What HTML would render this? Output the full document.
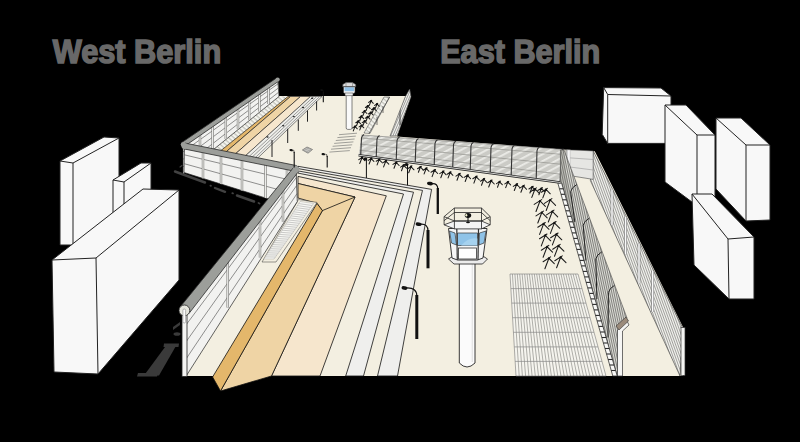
<!DOCTYPE html>
<html><head><meta charset="utf-8">
<style>
html,body{margin:0;padding:0;background:#000;width:800px;height:442px;overflow:hidden}
svg{display:block}
text{font-family:"Liberation Sans",sans-serif;font-weight:bold;fill:#686868;stroke:#686868;stroke-width:1.5}
</style></head><body>
<svg width="800" height="442" viewBox="0 0 800 442">
<defs>
<pattern id="hatch" width="3.5" height="3.5" patternUnits="userSpaceOnUse" patternTransform="rotate(40)">
  <rect width="3.5" height="3.5" fill="#f4f4ee"/><rect width="3.5" height="1.2" fill="#c0c0b8"/>
</pattern>
<pattern id="chain" width="6" height="6" patternUnits="userSpaceOnUse" patternTransform="rotate(-28)">
  <rect width="6" height="6" fill="#cbcbc6"/><rect width="6" height="1.8" fill="#ebebe7"/>
</pattern>
<pattern id="vl" width="2.2" height="10" patternUnits="userSpaceOnUse">
  <rect width="2.2" height="10" fill="#f2f2ee"/><rect width="0.8" height="10" fill="#8a8a86"/>
</pattern>
<pattern id="ow" width="2.3" height="6.3192" patternUnits="userSpaceOnUse" patternTransform="skewX(20)">
  <rect width="2.3" height="6.3192" fill="#f0f0ec"/><rect width="0.9" height="6.3192" fill="#8c8c88"/>
</pattern>
<pattern id="fz" width="2.1" height="9.8797" patternUnits="userSpaceOnUse" patternTransform="skewX(12)">
  <rect width="2.1" height="9.8797" fill="#dadad4"/><rect width="0.9" height="9.8797" fill="#6a6a66"/>
</pattern>
<pattern id="vld" width="2" height="10" patternUnits="userSpaceOnUse">
  <rect width="2" height="10" fill="#d6d6d0"/><rect width="0.9" height="10" fill="#5f5f5b"/>
</pattern>
</defs>
<rect width="800" height="442" fill="#000"/>

<text x="52.7" y="63.3" font-size="32.3" textLength="168.5" lengthAdjust="spacingAndGlyphs">West Berlin</text>
<text x="440.2" y="62.9" font-size="32.3" textLength="160" lengthAdjust="spacingAndGlyphs">East Berlin</text>
<g fill="#f8f8f8" stroke="#222" stroke-width="1" stroke-linejoin="round">
  <polygon points="60,161 104,137 119,138 119,240 73,245 60,245"/>
  <polyline fill="none" points="60,161 73,163 119,138"/>
  <line x1="73" y1="163" x2="73" y2="245"/>
  <polygon points="113,180 141,163 151,163 151,200 124,215 113,215"/>
  <polyline fill="none" points="113,180 124,182 151,163"/>
  <line x1="124" y1="182" x2="124" y2="215"/>
  <polygon points="52,260 143,189 179,190 179,280 98,374 54,372"/>
  <polyline fill="none" points="52,260 96,258 179,190"/>
  <line x1="96" y1="258" x2="98" y2="374"/>
</g>
<g fill="#f8f8f8" stroke="#222" stroke-width="1" stroke-linejoin="round">
  <polygon points="603.7,87.6 661,88 671,96 671,143.4 607.7,143.4 602.2,134.3"/>
  <polyline fill="none" points="603.7,87.6 607.7,94.5 671,96"/>
  <line x1="607.7" y1="94.5" x2="607.7" y2="143.4"/>
  <polygon points="665,105 686,105 715,135 715,205 696,205 665,182"/>
  <polyline fill="none" points="665,105 697,135 715,135"/>
  <line x1="697" y1="135" x2="697" y2="205"/>
  <polygon points="716,118 741,118 770,145 770,220 746,221 716,189"/>
  <polyline fill="none" points="716,118 746,145 770,145"/>
  <line x1="746" y1="145" x2="746" y2="221"/>
  <polygon points="692,194 712,194 754,237 754,299 729,299 694,265"/>
  <polyline fill="none" points="692,194 728,239 754,237"/>
  <line x1="728" y1="239" x2="729" y2="299"/>
</g>
<g fill="#3a3a3a">
<polygon points="144,375.5 159,375.5 176.5,345 166.5,345"/>
<polygon points="138,373 158,373 157,376.5 137,376.5"/>
<polygon points="164,343.5 179,343.5 178.5,347 163.5,347"/>
<polygon points="173,327 180,322 180,325 173,330"/>
<ellipse cx="177" cy="334" rx="3.5" ry="1.8"/>
<line x1="175.0" y1="171.5" x2="205.0" y2="182.5" stroke="#424242" stroke-width="2.40" stroke-linecap="round"/>
<line x1="180.0" y1="167.0" x2="182.0" y2="165.5" stroke="#424242" stroke-width="1.20" stroke-linecap="round"/>
<line x1="210.4" y1="185.6" x2="211.0" y2="185.8" stroke="#424242" stroke-width="1.76" stroke-linecap="round"/>
<line x1="215.0" y1="188.0" x2="225.0" y2="191.8" stroke="#424242" stroke-width="2.40" stroke-linecap="round"/>
<line x1="232.3" y1="193.2" x2="233.0" y2="193.4" stroke="#424242" stroke-width="1.76" stroke-linecap="round"/>
<line x1="237.0" y1="195.5" x2="254.0" y2="201.5" stroke="#424242" stroke-width="2.40" stroke-linecap="round"/>
<line x1="258.5" y1="203.0" x2="259.5" y2="203.5" stroke="#424242" stroke-width="1.76" stroke-linecap="round"/>
</g>
<polygon fill="#f3efe1" points="183,146 278,79 279,96 411,96 397,136.5 562.8,149.4 594.8,151.2 683,327 683,376 186,376 186,310 296,170"/>
<polygon fill="url(#hatch)" stroke="none" stroke-width="0.7" stroke-linejoin="round" points="279.0,96.5 289.0,96.5 201.0,168.0 190.7,168.0"/>
<polygon fill="#e4b76b" stroke="#222" stroke-width="0.7" stroke-linejoin="round" points="288.0,96.5 290.5,96.5 207.3,168.0 199.3,168.0"/>
<polygon fill="#efd4a5" stroke="#222" stroke-width="0.7" stroke-linejoin="round" points="290.5,96.5 300.5,96.5 219.4,168.0 207.3,168.0"/>
<polygon fill="#f6e6cd" stroke="#222" stroke-width="0.7" stroke-linejoin="round" points="300.5,96.5 310.5,96.5 232.1,168.0 219.4,168.0"/>
<polygon fill="#eeeeea" stroke="#333" stroke-width="0.6" stroke-linejoin="round" points="310.5,96.5 322.0,96.5 247.3,168.0 232.1,168.0"/>
<line x1="313.9" y1="96.5" x2="236.7" y2="168.0" stroke="#777" stroke-width="0.7"/>
<line x1="316.8" y1="96.5" x2="240.5" y2="168.0" stroke="#777" stroke-width="0.7"/>
<line x1="319.7" y1="96.5" x2="244.3" y2="168.0" stroke="#777" stroke-width="0.7"/>
<line x1="272" y1="140" x2="272" y2="157" stroke="#222" stroke-width="1"/>
<ellipse cx="267.5" cy="137" rx="1.2" ry="0.7" fill="#222"/>
<line x1="287.7" y1="128.8" x2="287.7" y2="143" stroke="#222" stroke-width="1"/>
<ellipse cx="283.2" cy="125.80000000000001" rx="1.2" ry="0.7" fill="#222"/>
<line x1="298.3" y1="119.6" x2="298.3" y2="130.8" stroke="#222" stroke-width="1"/>
<ellipse cx="293.8" cy="116.6" rx="1.2" ry="0.7" fill="#222"/>
<line x1="307.5" y1="110.5" x2="307.5" y2="121.7" stroke="#222" stroke-width="1"/>
<ellipse cx="303.0" cy="107.5" rx="1.2" ry="0.7" fill="#222"/>
<line x1="316.6" y1="101.3" x2="316.6" y2="110.5" stroke="#222" stroke-width="1"/>
<ellipse cx="312.1" cy="98.3" rx="1.2" ry="0.7" fill="#222"/>
<polygon fill="#f2f2f0" stroke="#222" stroke-width="0.7" stroke-linejoin="round" points="183.0,144.5 277.7,79.5 279.0,96.5 183.0,174.2"/><line x1="183.0" y1="151.9" x2="278.0" y2="83.8" stroke="#4a4a4a" stroke-width="0.6"/><line x1="183.0" y1="159.3" x2="278.4" y2="88.0" stroke="#4a4a4a" stroke-width="0.6"/><line x1="183.0" y1="166.8" x2="278.7" y2="92.2" stroke="#4a4a4a" stroke-width="0.6"/><line x1="200.0" y1="132.8" x2="200.0" y2="160.3" stroke="#7a7a76" stroke-width="2.4"/><line x1="200.0" y1="132.8" x2="200.0" y2="160.3" stroke="#ececea" stroke-width="1.2"/><line x1="212.6" y1="124.2" x2="212.6" y2="149.9" stroke="#7a7a76" stroke-width="2.4"/><line x1="212.6" y1="124.2" x2="212.6" y2="149.9" stroke="#ececea" stroke-width="1.2"/><line x1="225.8" y1="115.1" x2="225.8" y2="139.1" stroke="#7a7a76" stroke-width="2.4"/><line x1="225.8" y1="115.1" x2="225.8" y2="139.1" stroke="#ececea" stroke-width="1.2"/><line x1="238.0" y1="106.7" x2="238.0" y2="129.1" stroke="#7a7a76" stroke-width="2.4"/><line x1="238.0" y1="106.7" x2="238.0" y2="129.1" stroke="#ececea" stroke-width="1.2"/><line x1="249.2" y1="99.1" x2="249.2" y2="119.9" stroke="#7a7a76" stroke-width="2.4"/><line x1="249.2" y1="99.1" x2="249.2" y2="119.9" stroke="#ececea" stroke-width="1.2"/><line x1="259.4" y1="92.1" x2="259.4" y2="111.5" stroke="#7a7a76" stroke-width="2.4"/><line x1="259.4" y1="92.1" x2="259.4" y2="111.5" stroke="#ececea" stroke-width="1.2"/><line x1="268.5" y1="85.8" x2="268.5" y2="104.0" stroke="#7a7a76" stroke-width="2.4"/><line x1="268.5" y1="85.8" x2="268.5" y2="104.0" stroke="#ececea" stroke-width="1.2"/>
<polygon fill="#9c9e9a" stroke="#2a2a2a" stroke-width="0.8" stroke-linejoin="round" points="184.3,146.4 278.8,81.1 276.6,77.9 181.7,142.6"/><circle cx="183.0" cy="144.5" r="2.3" fill="#9c9e9a"/><circle cx="277.7" cy="79.5" r="2.0" fill="#9c9e9a"/>
<polygon fill="#f2f2f0" stroke="#222" stroke-width="0.7" stroke-linejoin="round" points="184.5,146.0 296.0,168.5 296.0,207.5 184.0,172.5"/><line x1="184.3" y1="154.8" x2="296.0" y2="181.5" stroke="#4a4a4a" stroke-width="0.6"/><line x1="184.2" y1="163.7" x2="296.0" y2="194.5" stroke="#4a4a4a" stroke-width="0.6"/><line x1="203.0" y1="149.7" x2="203.0" y2="178.3" stroke="#7a7a76" stroke-width="2.4"/><line x1="203.0" y1="149.7" x2="203.0" y2="178.3" stroke="#ececea" stroke-width="1.2"/><line x1="221.0" y1="153.4" x2="221.0" y2="184.0" stroke="#7a7a76" stroke-width="2.4"/><line x1="221.0" y1="153.4" x2="221.0" y2="184.0" stroke="#ececea" stroke-width="1.2"/><line x1="242.0" y1="157.6" x2="242.0" y2="190.5" stroke="#7a7a76" stroke-width="2.4"/><line x1="242.0" y1="157.6" x2="242.0" y2="190.5" stroke="#ececea" stroke-width="1.2"/><line x1="265.5" y1="162.3" x2="265.5" y2="197.9" stroke="#7a7a76" stroke-width="2.4"/><line x1="265.5" y1="162.3" x2="265.5" y2="197.9" stroke="#ececea" stroke-width="1.2"/><line x1="287.0" y1="166.7" x2="287.0" y2="204.7" stroke="#7a7a76" stroke-width="2.4"/><line x1="287.0" y1="166.7" x2="287.0" y2="204.7" stroke="#ececea" stroke-width="1.2"/>
<polygon fill="#9c9e9a" stroke="#2a2a2a" stroke-width="0.8" stroke-linejoin="round" points="183.9,148.9 295.4,171.4 296.6,165.6 185.1,143.1"/><circle cx="184.5" cy="146.0" r="3.0" fill="#9c9e9a"/><circle cx="296.0" cy="168.5" r="3.0" fill="#9c9e9a"/>
<g stroke="#111" stroke-width="0.8" stroke-linejoin="round">
<polygon fill="#f6e6cd" points="298,176.4 386.3,195.8 320,376 271.5,376 355,197 298,183.5"/>
<polygon fill="#efd4a5" points="298,183.5 355,197 271.5,376 220.5,391 322.4,210.6 317,203.4 298,198"/>
<polygon fill="#e4b76b" points="317,203.4 322.4,210.6 220.5,391 212.6,377"/>
<line x1="355" y1="197" x2="322.4" y2="210.6"/>
<polygon fill="#f3efe1" stroke="#333" stroke-width="0.5" points="298.5,199.5 317,202.4 276,262 262,262"/>
<polygon fill="#f8f8f4" stroke="#999" stroke-width="0.4" points="300,201.5 313.5,203.5 274,259 264,259"/>
<line x1="298.7" y1="203.6" x2="312.1" y2="205.5" stroke="#aaa" stroke-width="0.6"/>
<line x1="297.4" y1="205.6" x2="310.7" y2="207.5" stroke="#aaa" stroke-width="0.6"/>
<line x1="296.1" y1="207.7" x2="309.3" y2="209.4" stroke="#aaa" stroke-width="0.6"/>
<line x1="294.9" y1="209.7" x2="307.9" y2="211.4" stroke="#aaa" stroke-width="0.6"/>
<line x1="293.6" y1="211.8" x2="306.4" y2="213.4" stroke="#aaa" stroke-width="0.6"/>
<line x1="292.3" y1="213.8" x2="305.0" y2="215.4" stroke="#aaa" stroke-width="0.6"/>
<line x1="291.0" y1="215.9" x2="303.6" y2="217.4" stroke="#aaa" stroke-width="0.6"/>
<line x1="289.7" y1="217.9" x2="302.2" y2="219.4" stroke="#aaa" stroke-width="0.6"/>
<line x1="288.4" y1="220.0" x2="300.8" y2="221.3" stroke="#aaa" stroke-width="0.6"/>
<line x1="287.1" y1="222.0" x2="299.4" y2="223.3" stroke="#aaa" stroke-width="0.6"/>
<line x1="285.9" y1="224.1" x2="298.0" y2="225.3" stroke="#aaa" stroke-width="0.6"/>
<line x1="284.6" y1="226.1" x2="296.6" y2="227.3" stroke="#aaa" stroke-width="0.6"/>
<line x1="283.3" y1="228.2" x2="295.2" y2="229.3" stroke="#aaa" stroke-width="0.6"/>
<line x1="282.0" y1="230.2" x2="293.8" y2="231.2" stroke="#aaa" stroke-width="0.6"/>
<line x1="280.7" y1="232.3" x2="292.3" y2="233.2" stroke="#aaa" stroke-width="0.6"/>
<line x1="279.4" y1="234.4" x2="290.9" y2="235.2" stroke="#aaa" stroke-width="0.6"/>
<line x1="278.1" y1="236.4" x2="289.5" y2="237.2" stroke="#aaa" stroke-width="0.6"/>
<line x1="276.9" y1="238.5" x2="288.1" y2="239.2" stroke="#aaa" stroke-width="0.6"/>
<line x1="275.6" y1="240.5" x2="286.7" y2="241.2" stroke="#aaa" stroke-width="0.6"/>
<line x1="274.3" y1="242.6" x2="285.3" y2="243.1" stroke="#aaa" stroke-width="0.6"/>
<line x1="273.0" y1="244.6" x2="283.9" y2="245.1" stroke="#aaa" stroke-width="0.6"/>
<line x1="271.7" y1="246.7" x2="282.5" y2="247.1" stroke="#aaa" stroke-width="0.6"/>
<line x1="270.4" y1="248.7" x2="281.1" y2="249.1" stroke="#aaa" stroke-width="0.6"/>
<line x1="269.1" y1="250.8" x2="279.6" y2="251.1" stroke="#aaa" stroke-width="0.6"/>
<line x1="267.9" y1="252.8" x2="278.2" y2="253.1" stroke="#aaa" stroke-width="0.6"/>
<line x1="266.6" y1="254.9" x2="276.8" y2="255.0" stroke="#aaa" stroke-width="0.6"/>
<line x1="265.3" y1="256.9" x2="275.4" y2="257.0" stroke="#aaa" stroke-width="0.6"/>
<polygon fill="#efefed" points="298,173.1 403.5,194 345.7,376 363.5,376 413.5,192.2 298,170.9"/>
<polygon fill="#efefed" points="298,168.6 422.5,190.4 377.5,376 397.5,376 431.6,189.4 298,166.3"/>
</g>
<polygon fill="#f2f2f0" stroke="#222" stroke-width="0.7" stroke-linejoin="round" points="184.0,310.5 296.0,169.5 297.3,201.6 186.5,375.5"/><line x1="184.6" y1="326.8" x2="296.3" y2="177.5" stroke="#4a4a4a" stroke-width="0.6"/><line x1="185.2" y1="343.0" x2="296.6" y2="185.6" stroke="#4a4a4a" stroke-width="0.6"/><line x1="185.9" y1="359.2" x2="297.0" y2="193.6" stroke="#4a4a4a" stroke-width="0.6"/><line x1="227.7" y1="255.5" x2="227.7" y2="307.6" stroke="#7a7a76" stroke-width="2.4"/><line x1="227.7" y1="255.5" x2="227.7" y2="307.6" stroke="#ececea" stroke-width="1.2"/><line x1="260.0" y1="214.8" x2="260.0" y2="257.5" stroke="#7a7a76" stroke-width="2.4"/><line x1="260.0" y1="214.8" x2="260.0" y2="257.5" stroke="#ececea" stroke-width="1.2"/><line x1="283.0" y1="185.9" x2="283.0" y2="221.8" stroke="#7a7a76" stroke-width="2.4"/><line x1="283.0" y1="185.9" x2="283.0" y2="221.8" stroke="#ececea" stroke-width="1.2"/>
<polygon fill="#9c9e9a" stroke="#2a2a2a" stroke-width="0.8" stroke-linejoin="round" points="188.9,313.6 298.5,171.5 293.5,167.5 180.3,306.8"/><circle cx="184.6" cy="310.2" r="5.5" fill="#9c9e9a"/><circle cx="296.0" cy="169.5" r="3.2" fill="#9c9e9a"/>
<rect x="182" y="312" width="5" height="64.5" fill="#f4f4f2" stroke="#222" stroke-width="0.8"/>
<circle cx="184.4" cy="310.4" r="5.4" fill="#e6e6de" stroke="#222" stroke-width="0.8"/>
<rect x="182.9" y="309" width="2.7" height="14" rx="1.3" fill="#fafafa" stroke="#777" stroke-width="0.5"/>
<polygon fill="url(#hatch)" stroke="#555" stroke-width="0.6" points="384,97 389.6,97 370,133.5 364,133"/>
<g stroke="#444" stroke-width="0.7"><line x1="389.6" y1="97" x2="369" y2="133.5"/><line x1="383" y1="106" x2="383" y2="113"/><line x1="377" y1="117" x2="377" y2="125"/></g>
<clipPath id="cff"><polygon points="409.7,89 411,96.7 397,136 390,136 405.3,96.7"/></clipPath>
<polygon fill="#f2f2ee" points="409.7,89 411,96.7 397,136 390,136 405.3,96.7"/>
<g clip-path="url(#cff)" stroke="#777" stroke-width="0.7">
<line x1="409.0" y1="88" x2="388.0" y2="137"/>
<line x1="411.2" y1="88" x2="390.2" y2="137"/>
<line x1="413.4" y1="88" x2="392.4" y2="137"/>
<line x1="415.6" y1="88" x2="394.6" y2="137"/>
<line x1="417.8" y1="88" x2="396.8" y2="137"/>
<line x1="420.0" y1="88" x2="399.0" y2="137"/>
<line x1="422.2" y1="88" x2="401.2" y2="137"/>
<line x1="424.4" y1="88" x2="403.4" y2="137"/>
<line x1="400" y1="100" x2="400" y2="125" stroke="#333" stroke-width="0.9"/>
</g>
<polygon fill="none" stroke="#444" stroke-width="0.6" points="409.7,89 411,96.7 397,136 390,136 405.3,96.7"/>
<rect x="346.2" y="94" width="5.8" height="35.4" fill="#fafafa" stroke="#333" stroke-width="0.6" rx="1.5"/>
<polygon points="343.5,86.5 343.5,92.5 346,94.5 352,94.5 355,92.5 355,86.5" fill="#f2f2f2" stroke="#333" stroke-width="0.6"/>
<rect x="344.5" y="87.2" width="9.5" height="4" fill="#8fc0e6"/>
<polygon points="342.8,86.8 342.8,84.5 346,82.6 352.5,82.6 355.7,84.5 355.7,86.8" fill="#dcdcdc" stroke="#555" stroke-width="0.6"/>
<line x1="346" y1="82.8" x2="346" y2="86.5" stroke="#666" stroke-width="0.5"/><line x1="352.5" y1="82.8" x2="352.5" y2="86.5" stroke="#666" stroke-width="0.5"/>
<line x1="343" y1="86.5" x2="355.5" y2="86.5" stroke="#444" stroke-width="0.6"/>
<rect x="345" y="93" width="8" height="2.8" fill="#eee" stroke="#333" stroke-width="0.5"/>
<line x1="339.0" y1="134.7" x2="357.0" y2="133.2" stroke="#8a8a86" stroke-width="0.8"/>
<line x1="337.4" y1="137.6" x2="355.8" y2="136.1" stroke="#8a8a86" stroke-width="0.8"/>
<line x1="335.8" y1="140.5" x2="354.6" y2="139.0" stroke="#8a8a86" stroke-width="0.8"/>
<line x1="334.2" y1="143.4" x2="353.4" y2="141.9" stroke="#8a8a86" stroke-width="0.8"/>
<line x1="332.6" y1="146.3" x2="352.2" y2="144.8" stroke="#8a8a86" stroke-width="0.8"/>
<line x1="331.0" y1="149.2" x2="351.0" y2="147.7" stroke="#8a8a86" stroke-width="0.8"/>
<line x1="329.4" y1="152.1" x2="349.8" y2="150.6" stroke="#8a8a86" stroke-width="0.8"/>
<path d="M369.3,105.4 L371.0,101.0 L373.3,103.3 M368.6,102.4 L371.7,100.4" stroke="#1a1a1a" stroke-width="1.05" fill="none" stroke-linecap="round"/><circle cx="371.0" cy="101.0" r="1.1" fill="#111"/>
<path d="M366.1,110.5 L367.8,106.1 L370.1,108.4 M365.4,107.5 L368.5,105.5" stroke="#1a1a1a" stroke-width="1.05" fill="none" stroke-linecap="round"/><circle cx="367.8" cy="106.1" r="1.1" fill="#111"/>
<path d="M362.9,115.6 L364.6,111.2 L366.9,113.5 M362.2,112.6 L365.3,110.6" stroke="#1a1a1a" stroke-width="1.05" fill="none" stroke-linecap="round"/><circle cx="364.6" cy="111.2" r="1.1" fill="#111"/>
<path d="M359.7,120.7 L361.4,116.3 L363.7,118.6 M359.0,117.7 L362.1,115.7" stroke="#1a1a1a" stroke-width="1.05" fill="none" stroke-linecap="round"/><circle cx="361.4" cy="116.3" r="1.1" fill="#111"/>
<path d="M356.5,125.8 L358.2,121.4 L360.5,123.7 M355.8,122.8 L358.9,120.8" stroke="#1a1a1a" stroke-width="1.05" fill="none" stroke-linecap="round"/><circle cx="358.2" cy="121.4" r="1.1" fill="#111"/>
<path d="M353.3,130.9 L355.0,126.5 L357.3,128.8 M352.6,127.9 L355.7,125.9" stroke="#1a1a1a" stroke-width="1.05" fill="none" stroke-linecap="round"/><circle cx="355.0" cy="126.5" r="1.1" fill="#111"/>
<path d="M375.3,108.4 L377.0,104.0 L379.3,106.3 M374.6,105.4 L377.7,103.4" stroke="#1a1a1a" stroke-width="1.05" fill="none" stroke-linecap="round"/><circle cx="377.0" cy="104.0" r="1.1" fill="#111"/>
<path d="M372.2,112.7 L373.9,108.3 L376.2,110.6 M371.5,109.7 L374.6,107.7" stroke="#1a1a1a" stroke-width="1.05" fill="none" stroke-linecap="round"/><circle cx="373.9" cy="108.3" r="1.1" fill="#111"/>
<path d="M369.1,117.0 L370.8,112.6 L373.1,114.9 M368.4,114.0 L371.5,112.0" stroke="#1a1a1a" stroke-width="1.05" fill="none" stroke-linecap="round"/><circle cx="370.8" cy="112.6" r="1.1" fill="#111"/>
<path d="M366.0,121.3 L367.7,116.9 L370.0,119.2 M365.3,118.3 L368.4,116.3" stroke="#1a1a1a" stroke-width="1.05" fill="none" stroke-linecap="round"/><circle cx="367.7" cy="116.9" r="1.1" fill="#111"/>
<path d="M362.9,125.6 L364.6,121.2 L366.9,123.5 M362.2,122.6 L365.3,120.6" stroke="#1a1a1a" stroke-width="1.05" fill="none" stroke-linecap="round"/><circle cx="364.6" cy="121.2" r="1.1" fill="#111"/>
<path d="M359.8,129.9 L361.5,125.5 L363.8,127.8 M359.1,126.9 L362.2,124.9" stroke="#1a1a1a" stroke-width="1.05" fill="none" stroke-linecap="round"/><circle cx="361.5" cy="125.5" r="1.1" fill="#111"/>
<polygon fill="url(#chain)" stroke="none" points="361.5,135 562.8,149.4 560,182.5 358.6,155.2"/>
<line x1="361.1" y1="138.0" x2="562.4" y2="154.4" stroke="#9a9a96" stroke-width="0.8"/>
<line x1="360.2" y1="144.1" x2="561.5" y2="164.3" stroke="#9a9a96" stroke-width="0.8"/>
<line x1="359.3" y1="150.1" x2="560.7" y2="174.2" stroke="#9a9a96" stroke-width="0.8"/>
<line x1="361.5" y1="135" x2="562.8" y2="149.4" stroke="#777" stroke-width="0.6"/>
<path d="M360.7,155.2 L361.5,138.0 q0.5,-2.5 2.5,-3.5" stroke="#333" stroke-width="1.1" fill="none"/>
<path d="M376.2,157.3 L377.0,139.1 q0.5,-2.5 2.5,-3.5" stroke="#333" stroke-width="1.1" fill="none"/>
<path d="M396.2,160.0 L397.0,140.5 q0.5,-2.5 2.5,-3.5" stroke="#333" stroke-width="1.1" fill="none"/>
<path d="M415.2,162.6 L416.0,141.9 q0.5,-2.5 2.5,-3.5" stroke="#333" stroke-width="1.1" fill="none"/>
<path d="M434.2,165.2 L435.0,143.3 q0.5,-2.5 2.5,-3.5" stroke="#333" stroke-width="1.1" fill="none"/>
<path d="M452.7,167.7 L453.5,144.6 q0.5,-2.5 2.5,-3.5" stroke="#333" stroke-width="1.1" fill="none"/>
<path d="M470.2,170.1 L471.0,145.8 q0.5,-2.5 2.5,-3.5" stroke="#333" stroke-width="1.1" fill="none"/>
<path d="M490.2,172.8 L491.0,147.3 q0.5,-2.5 2.5,-3.5" stroke="#333" stroke-width="1.1" fill="none"/>
<path d="M511.2,175.6 L512.0,148.8 q0.5,-2.5 2.5,-3.5" stroke="#333" stroke-width="1.1" fill="none"/>
<path d="M536.2,179.0 L537.0,150.6 q0.5,-2.5 2.5,-3.5" stroke="#333" stroke-width="1.1" fill="none"/>
<path d="M560.2,182.3 L561.0,152.3 q0.5,-2.5 2.5,-3.5" stroke="#333" stroke-width="1.1" fill="none"/>
<line x1="358.6" y1="155.2" x2="560" y2="182.5" stroke="#222" stroke-width="2.6"/>
<line x1="358.6" y1="155.2" x2="560" y2="182.5" stroke="#e8e8e4" stroke-width="0.9"/>
<path d="M359.8,163.4 L362.0,157.7 L364.9,160.7 M358.8,159.6 L362.9,157.0" stroke="#1a1a1a" stroke-width="1.05" fill="none" stroke-linecap="round"/><circle cx="362.0" cy="157.7" r="1.1" fill="#111"/>
<path d="M369.1,164.0 L371.2,158.7 L373.9,161.4 M368.2,160.4 L372.0,158.0" stroke="#1a1a1a" stroke-width="1.05" fill="none" stroke-linecap="round"/><circle cx="371.2" cy="158.7" r="1.1" fill="#111"/>
<path d="M377.1,164.9 L379.1,159.6 L381.9,162.3 M376.2,161.3 L380.0,158.9" stroke="#1a1a1a" stroke-width="1.05" fill="none" stroke-linecap="round"/><circle cx="379.1" cy="159.6" r="1.1" fill="#111"/>
<path d="M383.6,166.9 L385.8,161.1 L388.8,164.1 M382.6,162.9 L386.8,160.3" stroke="#1a1a1a" stroke-width="1.05" fill="none" stroke-linecap="round"/><circle cx="385.8" cy="161.1" r="1.1" fill="#111"/>
<path d="M394.0,168.3 L396.2,162.5 L399.1,165.5 M393.0,164.4 L397.1,161.8" stroke="#1a1a1a" stroke-width="1.05" fill="none" stroke-linecap="round"/><circle cx="396.2" cy="162.5" r="1.1" fill="#111"/>
<path d="M401.5,170.8 L403.6,165.3 L406.5,168.1 M400.6,167.1 L404.5,164.5" stroke="#1a1a1a" stroke-width="1.05" fill="none" stroke-linecap="round"/><circle cx="403.6" cy="165.3" r="1.1" fill="#111"/>
<path d="M408.7,172.7 L411.0,166.7 L414.0,169.8 M407.7,168.7 L411.9,165.9" stroke="#1a1a1a" stroke-width="1.05" fill="none" stroke-linecap="round"/><circle cx="411.0" cy="166.7" r="1.1" fill="#111"/>
<path d="M418.4,172.3 L420.4,167.0 L423.1,169.8 M417.5,168.7 L421.3,166.3" stroke="#1a1a1a" stroke-width="1.05" fill="none" stroke-linecap="round"/><circle cx="420.4" cy="167.0" r="1.1" fill="#111"/>
<path d="M424.1,173.9 L426.2,168.5 L429.0,171.3 M423.2,170.2 L427.1,167.7" stroke="#1a1a1a" stroke-width="1.05" fill="none" stroke-linecap="round"/><circle cx="426.2" cy="168.5" r="1.1" fill="#111"/>
<path d="M432.1,176.6 L434.5,170.3 L437.7,173.5 M431.0,172.3 L435.5,169.5" stroke="#1a1a1a" stroke-width="1.05" fill="none" stroke-linecap="round"/><circle cx="434.5" cy="170.3" r="1.1" fill="#111"/>
<path d="M440.8,177.7 L443.1,171.7 L446.2,174.8 M439.7,173.6 L444.1,170.9" stroke="#1a1a1a" stroke-width="1.05" fill="none" stroke-linecap="round"/><circle cx="443.1" cy="171.7" r="1.1" fill="#111"/>
<path d="M448.1,177.9 L450.2,172.5 L452.9,175.3 M447.2,174.3 L451.0,171.8" stroke="#1a1a1a" stroke-width="1.05" fill="none" stroke-linecap="round"/><circle cx="450.2" cy="172.5" r="1.1" fill="#111"/>
<path d="M457.0,180.2 L459.3,174.1 L462.5,177.3 M456.0,176.1 L460.3,173.3" stroke="#1a1a1a" stroke-width="1.05" fill="none" stroke-linecap="round"/><circle cx="459.3" cy="174.1" r="1.1" fill="#111"/>
<path d="M465.2,181.5 L467.5,175.5 L470.5,178.6 M464.1,177.4 L468.4,174.7" stroke="#1a1a1a" stroke-width="1.05" fill="none" stroke-linecap="round"/><circle cx="467.5" cy="175.5" r="1.1" fill="#111"/>
<path d="M473.9,183.1 L476.2,176.8 L479.4,180.0 M472.8,178.8 L477.2,176.0" stroke="#1a1a1a" stroke-width="1.05" fill="none" stroke-linecap="round"/><circle cx="476.2" cy="176.8" r="1.1" fill="#111"/>
<path d="M481.5,185.2 L483.8,179.2 L486.8,182.3 M480.5,181.2 L484.7,178.4" stroke="#1a1a1a" stroke-width="1.05" fill="none" stroke-linecap="round"/><circle cx="483.8" cy="179.2" r="1.1" fill="#111"/>
<path d="M488.7,187.0 L491.1,180.8 L494.3,184.0 M487.7,182.8 L492.1,180.0" stroke="#1a1a1a" stroke-width="1.05" fill="none" stroke-linecap="round"/><circle cx="491.1" cy="180.8" r="1.1" fill="#111"/>
<path d="M497.5,187.3 L499.5,181.9 L502.3,184.6 M496.5,183.6 L500.4,181.1" stroke="#1a1a1a" stroke-width="1.05" fill="none" stroke-linecap="round"/><circle cx="499.5" cy="181.9" r="1.1" fill="#111"/>
<path d="M505.7,187.6 L507.8,182.1 L510.6,184.9 M504.8,183.9 L508.7,181.4" stroke="#1a1a1a" stroke-width="1.05" fill="none" stroke-linecap="round"/><circle cx="507.8" cy="182.1" r="1.1" fill="#111"/>
<path d="M514.3,190.5 L516.7,184.4 L519.8,187.5 M513.3,186.4 L517.6,183.6" stroke="#1a1a1a" stroke-width="1.05" fill="none" stroke-linecap="round"/><circle cx="516.7" cy="184.4" r="1.1" fill="#111"/>
<path d="M520.9,192.3 L523.4,186.0 L526.6,189.3 M519.8,188.1 L524.4,185.1" stroke="#1a1a1a" stroke-width="1.05" fill="none" stroke-linecap="round"/><circle cx="523.4" cy="186.0" r="1.1" fill="#111"/>
<path d="M529.9,193.0 L532.2,187.0 L535.3,190.1 M528.9,189.0 L533.2,186.2" stroke="#1a1a1a" stroke-width="1.05" fill="none" stroke-linecap="round"/><circle cx="532.2" cy="187.0" r="1.1" fill="#111"/>
<path d="M538.9,194.8 L541.3,188.5 L544.6,191.7 M537.8,190.5 L542.4,187.6" stroke="#1a1a1a" stroke-width="1.05" fill="none" stroke-linecap="round"/><circle cx="541.3" cy="188.5" r="1.1" fill="#111"/>
<clipPath id="cow"><polygon points="593.1,150.8 683,328.5 680,376 590.4,180.6"/></clipPath>
<polygon fill="#f0f0ec" points="593.1,150.8 683,328.5 680,376 590.4,180.6"/>
<g clip-path="url(#cow)" stroke="#8c8c88" stroke-width="0.8">
<line x1="480.0" y1="140" x2="566.4" y2="380"/>
<line x1="482.3" y1="140" x2="568.7" y2="380"/>
<line x1="484.6" y1="140" x2="571.0" y2="380"/>
<line x1="486.9" y1="140" x2="573.3" y2="380"/>
<line x1="489.2" y1="140" x2="575.6" y2="380"/>
<line x1="491.5" y1="140" x2="577.9" y2="380"/>
<line x1="493.8" y1="140" x2="580.2" y2="380"/>
<line x1="496.1" y1="140" x2="582.5" y2="380"/>
<line x1="498.4" y1="140" x2="584.8" y2="380"/>
<line x1="500.7" y1="140" x2="587.1" y2="380"/>
<line x1="503.0" y1="140" x2="589.4" y2="380"/>
<line x1="505.3" y1="140" x2="591.7" y2="380"/>
<line x1="507.6" y1="140" x2="594.0" y2="380"/>
<line x1="509.9" y1="140" x2="596.3" y2="380"/>
<line x1="512.2" y1="140" x2="598.6" y2="380"/>
<line x1="514.5" y1="140" x2="600.9" y2="380"/>
<line x1="516.8" y1="140" x2="603.2" y2="380"/>
<line x1="519.1" y1="140" x2="605.5" y2="380"/>
<line x1="521.4" y1="140" x2="607.8" y2="380"/>
<line x1="523.7" y1="140" x2="610.1" y2="380"/>
<line x1="526.0" y1="140" x2="612.4" y2="380"/>
<line x1="528.3" y1="140" x2="614.7" y2="380"/>
<line x1="530.6" y1="140" x2="617.0" y2="380"/>
<line x1="532.9" y1="140" x2="619.3" y2="380"/>
<line x1="535.2" y1="140" x2="621.6" y2="380"/>
<line x1="537.5" y1="140" x2="623.9" y2="380"/>
<line x1="539.8" y1="140" x2="626.2" y2="380"/>
<line x1="542.1" y1="140" x2="628.5" y2="380"/>
<line x1="544.4" y1="140" x2="630.8" y2="380"/>
<line x1="546.7" y1="140" x2="633.1" y2="380"/>
<line x1="549.0" y1="140" x2="635.4" y2="380"/>
<line x1="551.3" y1="140" x2="637.7" y2="380"/>
<line x1="553.6" y1="140" x2="640.0" y2="380"/>
<line x1="555.9" y1="140" x2="642.3" y2="380"/>
<line x1="558.2" y1="140" x2="644.6" y2="380"/>
<line x1="560.5" y1="140" x2="646.9" y2="380"/>
<line x1="562.8" y1="140" x2="649.2" y2="380"/>
<line x1="565.1" y1="140" x2="651.5" y2="380"/>
<line x1="567.4" y1="140" x2="653.8" y2="380"/>
<line x1="569.7" y1="140" x2="656.1" y2="380"/>
<line x1="572.0" y1="140" x2="658.4" y2="380"/>
<line x1="574.3" y1="140" x2="660.7" y2="380"/>
<line x1="576.6" y1="140" x2="663.0" y2="380"/>
<line x1="578.9" y1="140" x2="665.3" y2="380"/>
<line x1="581.2" y1="140" x2="667.6" y2="380"/>
<line x1="583.5" y1="140" x2="669.9" y2="380"/>
<line x1="585.8" y1="140" x2="672.2" y2="380"/>
<line x1="588.1" y1="140" x2="674.5" y2="380"/>
<line x1="590.4" y1="140" x2="676.8" y2="380"/>
<line x1="592.7" y1="140" x2="679.1" y2="380"/>
<line x1="595.0" y1="140" x2="681.4" y2="380"/>
<line x1="597.3" y1="140" x2="683.7" y2="380"/>
<line x1="599.6" y1="140" x2="686.0" y2="380"/>
<line x1="601.9" y1="140" x2="688.3" y2="380"/>
<line x1="604.2" y1="140" x2="690.6" y2="380"/>
<line x1="606.5" y1="140" x2="692.9" y2="380"/>
<line x1="608.8" y1="140" x2="695.2" y2="380"/>
<line x1="611.1" y1="140" x2="697.5" y2="380"/>
<line x1="613.4" y1="140" x2="699.8" y2="380"/>
<line x1="615.7" y1="140" x2="702.1" y2="380"/>
<line x1="618.0" y1="140" x2="704.4" y2="380"/>
<line x1="620.3" y1="140" x2="706.7" y2="380"/>
<line x1="622.6" y1="140" x2="709.0" y2="380"/>
<line x1="624.9" y1="140" x2="711.3" y2="380"/>
<line x1="627.2" y1="140" x2="713.6" y2="380"/>
<line x1="629.5" y1="140" x2="715.9" y2="380"/>
<line x1="631.8" y1="140" x2="718.2" y2="380"/>
<line x1="634.1" y1="140" x2="720.5" y2="380"/>
<line x1="636.4" y1="140" x2="722.8" y2="380"/>
<line x1="638.7" y1="140" x2="725.1" y2="380"/>
<line x1="641.0" y1="140" x2="727.4" y2="380"/>
<line x1="643.3" y1="140" x2="729.7" y2="380"/>
<line x1="645.6" y1="140" x2="732.0" y2="380"/>
<line x1="647.9" y1="140" x2="734.3" y2="380"/>
<line x1="650.2" y1="140" x2="736.6" y2="380"/>
<line x1="652.5" y1="140" x2="738.9" y2="380"/>
<line x1="654.8" y1="140" x2="741.2" y2="380"/>
<line x1="657.1" y1="140" x2="743.5" y2="380"/>
<line x1="659.4" y1="140" x2="745.8" y2="380"/>
<line x1="661.7" y1="140" x2="748.1" y2="380"/>
<line x1="664.0" y1="140" x2="750.4" y2="380"/>
<line x1="666.3" y1="140" x2="752.7" y2="380"/>
<line x1="668.6" y1="140" x2="755.0" y2="380"/>
<line x1="670.9" y1="140" x2="757.3" y2="380"/>
<line x1="673.2" y1="140" x2="759.6" y2="380"/>
<line x1="675.5" y1="140" x2="761.9" y2="380"/>
<line x1="677.8" y1="140" x2="764.2" y2="380"/>
<line x1="680.1" y1="140" x2="766.5" y2="380"/>
<line x1="682.4" y1="140" x2="768.8" y2="380"/>
<line x1="684.7" y1="140" x2="771.1" y2="380"/>
<line x1="687.0" y1="140" x2="773.4" y2="380"/>
<line x1="689.3" y1="140" x2="775.7" y2="380"/>
<line x1="691.6" y1="140" x2="778.0" y2="380"/>
<line x1="693.9" y1="140" x2="780.3" y2="380"/>
<line x1="696.2" y1="140" x2="782.6" y2="380"/>
<line x1="698.5" y1="140" x2="784.9" y2="380"/>
</g>
<polygon fill="none" stroke="#333" stroke-width="0.6" points="593.1,150.8 683,328.5 680,376 590.4,180.6"/>
<line x1="612" y1="189.6" x2="612" y2="225.1" stroke="#666" stroke-width="2.6"/><line x1="612" y1="189.6" x2="612" y2="225.1" stroke="#fafafa" stroke-width="1.6"/>
<line x1="625.6" y1="216.8" x2="625.6" y2="254.3" stroke="#666" stroke-width="2.6"/><line x1="625.6" y1="216.8" x2="625.6" y2="254.3" stroke="#fafafa" stroke-width="1.6"/>
<line x1="639" y1="243.5" x2="639" y2="283.2" stroke="#666" stroke-width="2.6"/><line x1="639" y1="243.5" x2="639" y2="283.2" stroke="#fafafa" stroke-width="1.6"/>
<line x1="652.7" y1="270.9" x2="652.7" y2="311.9" stroke="#666" stroke-width="2.6"/><line x1="652.7" y1="270.9" x2="652.7" y2="311.9" stroke="#fafafa" stroke-width="1.6"/>
<rect x="681" y="327.5" width="4" height="48" fill="#f4f4f2" stroke="#333" stroke-width="0.7"/>
<polygon fill="#e6e6e3" stroke="#444" stroke-width="0.6" points="566,149.7 593.2,150.9 593.2,179.4 566,175"/>
<g stroke="#999" stroke-width="0.6"><line x1="566" y1="157.6" x2="593.2" y2="159.5"/><line x1="566" y1="166.5" x2="593.2" y2="170"/></g>
<rect x="567.4" y="150" width="2.7" height="25" fill="#f6f6f6" stroke="#aaa" stroke-width="0.4"/>
<clipPath id="cif"><polygon points="560.4,150 564,150 627,318 622,325 617,376 561.8,183.5 560.4,182"/></clipPath>
<polygon fill="#dadad4" points="560.4,150 564,150 627,318 622,325 617,376 561.8,183.5 560.4,182"/>
<g clip-path="url(#cif)" stroke="#6a6a66" stroke-width="0.8">
<line x1="500.0" y1="140" x2="550.4" y2="380"/>
<line x1="502.1" y1="140" x2="552.5" y2="380"/>
<line x1="504.2" y1="140" x2="554.6" y2="380"/>
<line x1="506.3" y1="140" x2="556.7" y2="380"/>
<line x1="508.4" y1="140" x2="558.8" y2="380"/>
<line x1="510.5" y1="140" x2="560.9" y2="380"/>
<line x1="512.6" y1="140" x2="563.0" y2="380"/>
<line x1="514.7" y1="140" x2="565.1" y2="380"/>
<line x1="516.8" y1="140" x2="567.2" y2="380"/>
<line x1="518.9" y1="140" x2="569.3" y2="380"/>
<line x1="521.0" y1="140" x2="571.4" y2="380"/>
<line x1="523.1" y1="140" x2="573.5" y2="380"/>
<line x1="525.2" y1="140" x2="575.6" y2="380"/>
<line x1="527.3" y1="140" x2="577.7" y2="380"/>
<line x1="529.4" y1="140" x2="579.8" y2="380"/>
<line x1="531.5" y1="140" x2="581.9" y2="380"/>
<line x1="533.6" y1="140" x2="584.0" y2="380"/>
<line x1="535.7" y1="140" x2="586.1" y2="380"/>
<line x1="537.8" y1="140" x2="588.2" y2="380"/>
<line x1="539.9" y1="140" x2="590.3" y2="380"/>
<line x1="542.0" y1="140" x2="592.4" y2="380"/>
<line x1="544.1" y1="140" x2="594.5" y2="380"/>
<line x1="546.2" y1="140" x2="596.6" y2="380"/>
<line x1="548.3" y1="140" x2="598.7" y2="380"/>
<line x1="550.4" y1="140" x2="600.8" y2="380"/>
<line x1="552.5" y1="140" x2="602.9" y2="380"/>
<line x1="554.6" y1="140" x2="605.0" y2="380"/>
<line x1="556.7" y1="140" x2="607.1" y2="380"/>
<line x1="558.8" y1="140" x2="609.2" y2="380"/>
<line x1="560.9" y1="140" x2="611.3" y2="380"/>
<line x1="563.0" y1="140" x2="613.4" y2="380"/>
<line x1="565.1" y1="140" x2="615.5" y2="380"/>
<line x1="567.2" y1="140" x2="617.6" y2="380"/>
<line x1="569.3" y1="140" x2="619.7" y2="380"/>
<line x1="571.4" y1="140" x2="621.8" y2="380"/>
<line x1="573.5" y1="140" x2="623.9" y2="380"/>
<line x1="575.6" y1="140" x2="626.0" y2="380"/>
<line x1="577.7" y1="140" x2="628.1" y2="380"/>
<line x1="579.8" y1="140" x2="630.2" y2="380"/>
<line x1="581.9" y1="140" x2="632.3" y2="380"/>
<line x1="584.0" y1="140" x2="634.4" y2="380"/>
<line x1="586.1" y1="140" x2="636.5" y2="380"/>
<line x1="588.2" y1="140" x2="638.6" y2="380"/>
<line x1="590.3" y1="140" x2="640.7" y2="380"/>
<line x1="592.4" y1="140" x2="642.8" y2="380"/>
<line x1="594.5" y1="140" x2="644.9" y2="380"/>
<line x1="596.6" y1="140" x2="647.0" y2="380"/>
<line x1="598.7" y1="140" x2="649.1" y2="380"/>
<line x1="600.8" y1="140" x2="651.2" y2="380"/>
<line x1="602.9" y1="140" x2="653.3" y2="380"/>
<line x1="605.0" y1="140" x2="655.4" y2="380"/>
<line x1="607.1" y1="140" x2="657.5" y2="380"/>
<line x1="609.2" y1="140" x2="659.6" y2="380"/>
<line x1="611.3" y1="140" x2="661.7" y2="380"/>
<line x1="613.4" y1="140" x2="663.8" y2="380"/>
<line x1="615.5" y1="140" x2="665.9" y2="380"/>
<line x1="617.6" y1="140" x2="668.0" y2="380"/>
<line x1="619.7" y1="140" x2="670.1" y2="380"/>
<line x1="621.8" y1="140" x2="672.2" y2="380"/>
<line x1="623.9" y1="140" x2="674.3" y2="380"/>
<line x1="626.0" y1="140" x2="676.4" y2="380"/>
<line x1="628.1" y1="140" x2="678.5" y2="380"/>
<line x1="630.2" y1="140" x2="680.6" y2="380"/>
<line x1="632.3" y1="140" x2="682.7" y2="380"/>
<line x1="634.4" y1="140" x2="684.8" y2="380"/>
<line x1="636.5" y1="140" x2="686.9" y2="380"/>
<line x1="638.6" y1="140" x2="689.0" y2="380"/>
</g>
<polygon fill="none" stroke="#444" stroke-width="0.6" points="560.4,150 564,150 627,318 622,325 617,376 561.8,183.5 560.4,182"/>
<polygon fill="#6a6a66" opacity="0.28" points="560.4,150 564,150 566,172 578,240 617,376 561.8,183.5 560.4,182"/>
<path d="M574.8,222.0 L570.6,191.6 q1,-4 6,-7" stroke="#222" stroke-width="1" fill="none"/>
<path d="M585.9,260.5 L583.2,225.2 q1,-4 6,-7" stroke="#222" stroke-width="1" fill="none"/>
<path d="M596.9,299.0 L595.8,258.8 q1,-4 6,-7" stroke="#222" stroke-width="1" fill="none"/>
<path d="M608.0,337.5 L608.4,292.4 q1,-4 6,-7" stroke="#222" stroke-width="1" fill="none"/>
<polygon fill="#f6f6f4" stroke="#333" stroke-width="0.7" points="617.5,330 627,321 629,325 622.5,331 622.5,376 617.5,376"/>
<polygon fill="#9b8b7b" stroke="#333" stroke-width="0.6" points="616,326 626,317 628.5,321 619,330"/>
<polygon fill="#f8f8f6" stroke="#2a2a2a" stroke-width="0.75" points="557.9,183.3 561.7,183.3 617.2,376 612.8,376"/>
<line x1="559.5" y1="188.8" x2="563.3" y2="188.8" stroke="#2a2a2a" stroke-width="1.1"/>
<line x1="561.0" y1="194.3" x2="564.9" y2="194.3" stroke="#2a2a2a" stroke-width="1.1"/>
<line x1="562.6" y1="199.8" x2="566.5" y2="199.8" stroke="#2a2a2a" stroke-width="1.1"/>
<line x1="564.2" y1="205.3" x2="568.0" y2="205.3" stroke="#2a2a2a" stroke-width="1.1"/>
<line x1="565.7" y1="210.8" x2="569.6" y2="210.8" stroke="#2a2a2a" stroke-width="1.1"/>
<line x1="567.3" y1="216.3" x2="571.2" y2="216.3" stroke="#2a2a2a" stroke-width="1.1"/>
<line x1="568.9" y1="221.8" x2="572.8" y2="221.8" stroke="#2a2a2a" stroke-width="1.1"/>
<line x1="570.4" y1="227.3" x2="574.4" y2="227.3" stroke="#2a2a2a" stroke-width="1.1"/>
<line x1="572.0" y1="232.9" x2="576.0" y2="232.9" stroke="#2a2a2a" stroke-width="1.1"/>
<line x1="573.6" y1="238.4" x2="577.6" y2="238.4" stroke="#2a2a2a" stroke-width="1.1"/>
<line x1="575.2" y1="243.9" x2="579.1" y2="243.9" stroke="#2a2a2a" stroke-width="1.1"/>
<line x1="576.7" y1="249.4" x2="580.7" y2="249.4" stroke="#2a2a2a" stroke-width="1.1"/>
<line x1="578.3" y1="254.9" x2="582.3" y2="254.9" stroke="#2a2a2a" stroke-width="1.1"/>
<line x1="579.9" y1="260.4" x2="583.9" y2="260.4" stroke="#2a2a2a" stroke-width="1.1"/>
<line x1="581.4" y1="265.9" x2="585.5" y2="265.9" stroke="#2a2a2a" stroke-width="1.1"/>
<line x1="583.0" y1="271.4" x2="587.1" y2="271.4" stroke="#2a2a2a" stroke-width="1.1"/>
<line x1="584.6" y1="276.9" x2="588.7" y2="276.9" stroke="#2a2a2a" stroke-width="1.1"/>
<line x1="586.1" y1="282.4" x2="590.2" y2="282.4" stroke="#2a2a2a" stroke-width="1.1"/>
<line x1="587.7" y1="287.9" x2="591.8" y2="287.9" stroke="#2a2a2a" stroke-width="1.1"/>
<line x1="589.3" y1="293.4" x2="593.4" y2="293.4" stroke="#2a2a2a" stroke-width="1.1"/>
<line x1="590.8" y1="298.9" x2="595.0" y2="298.9" stroke="#2a2a2a" stroke-width="1.1"/>
<line x1="592.4" y1="304.4" x2="596.6" y2="304.4" stroke="#2a2a2a" stroke-width="1.1"/>
<line x1="594.0" y1="309.9" x2="598.2" y2="309.9" stroke="#2a2a2a" stroke-width="1.1"/>
<line x1="595.5" y1="315.4" x2="599.8" y2="315.4" stroke="#2a2a2a" stroke-width="1.1"/>
<line x1="597.1" y1="320.9" x2="601.3" y2="320.9" stroke="#2a2a2a" stroke-width="1.1"/>
<line x1="598.7" y1="326.4" x2="602.9" y2="326.4" stroke="#2a2a2a" stroke-width="1.1"/>
<line x1="600.3" y1="332.0" x2="604.5" y2="332.0" stroke="#2a2a2a" stroke-width="1.1"/>
<line x1="601.8" y1="337.5" x2="606.1" y2="337.5" stroke="#2a2a2a" stroke-width="1.1"/>
<line x1="603.4" y1="343.0" x2="607.7" y2="343.0" stroke="#2a2a2a" stroke-width="1.1"/>
<line x1="605.0" y1="348.5" x2="609.3" y2="348.5" stroke="#2a2a2a" stroke-width="1.1"/>
<line x1="606.5" y1="354.0" x2="610.9" y2="354.0" stroke="#2a2a2a" stroke-width="1.1"/>
<line x1="608.1" y1="359.5" x2="612.4" y2="359.5" stroke="#2a2a2a" stroke-width="1.1"/>
<line x1="609.7" y1="365.0" x2="614.0" y2="365.0" stroke="#2a2a2a" stroke-width="1.1"/>
<line x1="611.2" y1="370.5" x2="615.6" y2="370.5" stroke="#2a2a2a" stroke-width="1.1"/>
<polygon fill="#f5f4ee" stroke="#777" stroke-width="0.6" points="510,274 578,274 606,376 516,376"/>
<line x1="512.4" y1="274.0" x2="519.2" y2="376.0" stroke="#7d7d79" stroke-width="0.6"/>
<line x1="514.9" y1="274.0" x2="522.4" y2="376.0" stroke="#7d7d79" stroke-width="0.6"/>
<line x1="517.3" y1="274.0" x2="525.6" y2="376.0" stroke="#7d7d79" stroke-width="0.6"/>
<line x1="519.7" y1="274.0" x2="528.9" y2="376.0" stroke="#7d7d79" stroke-width="0.6"/>
<line x1="522.1" y1="274.0" x2="532.1" y2="376.0" stroke="#7d7d79" stroke-width="0.6"/>
<line x1="524.6" y1="274.0" x2="535.3" y2="376.0" stroke="#7d7d79" stroke-width="0.6"/>
<line x1="527.0" y1="274.0" x2="538.5" y2="376.0" stroke="#7d7d79" stroke-width="0.6"/>
<line x1="529.4" y1="274.0" x2="541.7" y2="376.0" stroke="#7d7d79" stroke-width="0.6"/>
<line x1="531.9" y1="274.0" x2="544.9" y2="376.0" stroke="#7d7d79" stroke-width="0.6"/>
<line x1="534.3" y1="274.0" x2="548.1" y2="376.0" stroke="#7d7d79" stroke-width="0.6"/>
<line x1="536.7" y1="274.0" x2="551.4" y2="376.0" stroke="#7d7d79" stroke-width="0.6"/>
<line x1="539.1" y1="274.0" x2="554.6" y2="376.0" stroke="#7d7d79" stroke-width="0.6"/>
<line x1="541.6" y1="274.0" x2="557.8" y2="376.0" stroke="#7d7d79" stroke-width="0.6"/>
<line x1="544.0" y1="274.0" x2="561.0" y2="376.0" stroke="#7d7d79" stroke-width="0.6"/>
<line x1="546.4" y1="274.0" x2="564.2" y2="376.0" stroke="#7d7d79" stroke-width="0.6"/>
<line x1="548.9" y1="274.0" x2="567.4" y2="376.0" stroke="#7d7d79" stroke-width="0.6"/>
<line x1="551.3" y1="274.0" x2="570.6" y2="376.0" stroke="#7d7d79" stroke-width="0.6"/>
<line x1="553.7" y1="274.0" x2="573.9" y2="376.0" stroke="#7d7d79" stroke-width="0.6"/>
<line x1="556.1" y1="274.0" x2="577.1" y2="376.0" stroke="#7d7d79" stroke-width="0.6"/>
<line x1="558.6" y1="274.0" x2="580.3" y2="376.0" stroke="#7d7d79" stroke-width="0.6"/>
<line x1="561.0" y1="274.0" x2="583.5" y2="376.0" stroke="#7d7d79" stroke-width="0.6"/>
<line x1="563.4" y1="274.0" x2="586.7" y2="376.0" stroke="#7d7d79" stroke-width="0.6"/>
<line x1="565.9" y1="274.0" x2="589.9" y2="376.0" stroke="#7d7d79" stroke-width="0.6"/>
<line x1="568.3" y1="274.0" x2="593.1" y2="376.0" stroke="#7d7d79" stroke-width="0.6"/>
<line x1="570.7" y1="274.0" x2="596.4" y2="376.0" stroke="#7d7d79" stroke-width="0.6"/>
<line x1="573.1" y1="274.0" x2="599.6" y2="376.0" stroke="#7d7d79" stroke-width="0.6"/>
<line x1="575.6" y1="274.0" x2="602.8" y2="376.0" stroke="#7d7d79" stroke-width="0.6"/>
<line x1="510.9" y1="288.6" x2="582.0" y2="288.6" stroke="#888" stroke-width="0.7"/>
<line x1="511.7" y1="303.1" x2="586.0" y2="303.1" stroke="#888" stroke-width="0.7"/>
<line x1="512.6" y1="317.7" x2="590.0" y2="317.7" stroke="#888" stroke-width="0.7"/>
<line x1="513.4" y1="332.3" x2="594.0" y2="332.3" stroke="#888" stroke-width="0.7"/>
<line x1="514.3" y1="346.9" x2="598.0" y2="346.9" stroke="#888" stroke-width="0.7"/>
<line x1="515.1" y1="361.4" x2="602.0" y2="361.4" stroke="#888" stroke-width="0.7"/>
<path d="M531.8,197.4 L535.0,189.0 L539.3,193.3 M530.4,191.7 L536.4,187.9" stroke="#1a1a1a" stroke-width="1.05" fill="none" stroke-linecap="round"/><circle cx="535.0" cy="189.0" r="1.1" fill="#111"/>
<path d="M542.8,197.9 L546.0,189.5 L550.3,193.8 M541.4,192.2 L547.4,188.4" stroke="#1a1a1a" stroke-width="1.05" fill="none" stroke-linecap="round"/><circle cx="546.0" cy="189.5" r="1.1" fill="#111"/>
<path d="M536.0,211.5 L540.0,201.0 L545.4,206.4 M534.2,204.4 L541.7,199.6" stroke="#1a1a1a" stroke-width="1.05" fill="none" stroke-linecap="round"/><circle cx="540.0" cy="201.0" r="1.1" fill="#111"/>
<path d="M546.2,210.5 L550.2,200.0 L555.6,205.4 M544.4,203.4 L551.9,198.6" stroke="#1a1a1a" stroke-width="1.05" fill="none" stroke-linecap="round"/><circle cx="550.2" cy="200.0" r="1.1" fill="#111"/>
<path d="M537.8,223.0 L541.8,212.5 L547.2,217.9 M536.0,215.9 L543.5,211.1" stroke="#1a1a1a" stroke-width="1.05" fill="none" stroke-linecap="round"/><circle cx="541.8" cy="212.5" r="1.1" fill="#111"/>
<path d="M548.3,222.0 L552.3,211.5 L557.7,216.9 M546.5,214.9 L554.0,210.1" stroke="#1a1a1a" stroke-width="1.05" fill="none" stroke-linecap="round"/><circle cx="552.3" cy="211.5" r="1.1" fill="#111"/>
<path d="M539.6,234.4 L543.6,223.9 L549.0,229.3 M537.8,227.3 L545.3,222.5" stroke="#1a1a1a" stroke-width="1.05" fill="none" stroke-linecap="round"/><circle cx="543.6" cy="223.9" r="1.1" fill="#111"/>
<path d="M550.4,233.4 L554.4,222.9 L559.8,228.3 M548.6,226.3 L556.1,221.5" stroke="#1a1a1a" stroke-width="1.05" fill="none" stroke-linecap="round"/><circle cx="554.4" cy="222.9" r="1.1" fill="#111"/>
<path d="M541.3,245.9 L545.3,235.4 L550.7,240.8 M539.5,238.8 L547.0,234.0" stroke="#1a1a1a" stroke-width="1.05" fill="none" stroke-linecap="round"/><circle cx="545.3" cy="235.4" r="1.1" fill="#111"/>
<path d="M552.4,244.9 L556.4,234.4 L561.8,239.8 M550.6,237.8 L558.1,233.0" stroke="#1a1a1a" stroke-width="1.05" fill="none" stroke-linecap="round"/><circle cx="556.4" cy="234.4" r="1.1" fill="#111"/>
<path d="M543.1,257.3 L547.1,246.8 L552.5,252.2 M541.3,250.2 L548.8,245.4" stroke="#1a1a1a" stroke-width="1.05" fill="none" stroke-linecap="round"/><circle cx="547.1" cy="246.8" r="1.1" fill="#111"/>
<path d="M554.5,256.3 L558.5,245.8 L563.9,251.2 M552.7,249.2 L560.2,244.4" stroke="#1a1a1a" stroke-width="1.05" fill="none" stroke-linecap="round"/><circle cx="558.5" cy="245.8" r="1.1" fill="#111"/>
<path d="M544.9,268.8 L548.9,258.3 L554.3,263.7 M543.1,261.7 L550.6,256.9" stroke="#1a1a1a" stroke-width="1.05" fill="none" stroke-linecap="round"/><circle cx="548.9" cy="258.3" r="1.1" fill="#111"/>
<path d="M556.6,267.8 L560.6,257.3 L566.0,262.7 M554.8,260.7 L562.3,255.9" stroke="#1a1a1a" stroke-width="1.05" fill="none" stroke-linecap="round"/><circle cx="560.6" cy="257.3" r="1.1" fill="#111"/>
<path d="M432.0,183.6 Q437.8,183.1 437.8,189.0" stroke="#111" stroke-width="1.2" fill="none"/>
<line x1="437.8" y1="188" x2="437.8" y2="214" stroke="#111" stroke-width="2.3"/>
<ellipse cx="430" cy="183.6" rx="3.0" ry="1.8" fill="#111" transform="rotate(10 430 183.6)"/>
<path d="M420.6,224.2 Q428.0,223.7 428.0,231.0" stroke="#111" stroke-width="1.2" fill="none"/>
<line x1="428" y1="230" x2="428" y2="268.3" stroke="#111" stroke-width="3"/>
<ellipse cx="418.6" cy="224.2" rx="3.0" ry="1.8" fill="#111" transform="rotate(10 418.6 224.2)"/>
<path d="M406.5,288.0 Q416.8,287.5 416.8,296.0" stroke="#111" stroke-width="1.2" fill="none"/>
<line x1="416.8" y1="295" x2="416.8" y2="339" stroke="#111" stroke-width="3"/>
<ellipse cx="404.5" cy="288" rx="3.0" ry="1.8" fill="#111" transform="rotate(10 404.5 288)"/>
<path d="M293.2,150.1 Q294.2,149.6 294.2,153.0" stroke="#111" stroke-width="0.7" fill="none"/>
<line x1="294.2" y1="152" x2="294.2" y2="167.4" stroke="#111" stroke-width="1.1"/>
<ellipse cx="291.2" cy="150.1" rx="1.8" ry="1.1" fill="#111" transform="rotate(10 291.2 150.1)"/>
<path d="M325.3,154.2 Q327.2,153.7 327.2,157.0" stroke="#111" stroke-width="0.7" fill="none"/>
<line x1="327.2" y1="156" x2="327.2" y2="167.4" stroke="#111" stroke-width="1.1"/>
<ellipse cx="323.3" cy="154.2" rx="1.8" ry="1.1" fill="#111" transform="rotate(10 323.3 154.2)"/>
<path d="M323.7,90.1 Q323.3,89.6 323.3,93.0" stroke="#111" stroke-width="0.6" fill="none"/>
<line x1="323.3" y1="92" x2="323.3" y2="102.3" stroke="#111" stroke-width="1.1"/>
<ellipse cx="321.7" cy="90.1" rx="1.5" ry="0.9" fill="#111" transform="rotate(10 321.7 90.1)"/>
<line x1="366.4" y1="159.5" x2="366.4" y2="178" stroke="#111" stroke-width="1"/>
<ellipse cx="365.4" cy="159.0" rx="2" ry="1.5" fill="#111"/>
<line x1="407.5" y1="165" x2="407.5" y2="185.4" stroke="#111" stroke-width="1"/>
<ellipse cx="406.5" cy="164.5" rx="2" ry="1.5" fill="#111"/>
<polygon fill="#c4c4c0" stroke="#555" stroke-width="0.6" points="302.4,150 307,147 312.5,149.5 308,153.2"/>
<line x1="304" y1="150.5" x2="309" y2="148" stroke="#888" stroke-width="0.5"/><line x1="306" y1="152" x2="311" y2="149.5" stroke="#888" stroke-width="0.5"/>
<path d="M459.3,259 L475,259 L475,363 Q467,371 459.3,363 Z" fill="#fbfbfb" stroke="#222" stroke-width="0.9"/>
<line x1="472.3" y1="263" x2="472.3" y2="362" stroke="#e2e2e2" stroke-width="1.2"/>
<polygon fill="#ececec" stroke="#222" stroke-width="0.8" points="448.5,259 454,255.5 482,255.5 487.5,259 482.5,264 454,264"/>
<polygon fill="#f6f6f6" stroke="#222" stroke-width="0.9" points="448.5,228.5 487,228.5 483,258 477.5,260 457.5,260 452,258"/>
<polygon fill="#8fc3e8" stroke="#333" stroke-width="0.7" points="449.5,231 455,233 456.5,245 451.5,243"/>
<polygon fill="#8fc3e8" stroke="#333" stroke-width="0.7" points="457.5,233 477.5,233 477.5,245.5 457.5,245.5"/>
<path d="M461,245.5 Q469,236.5 477.5,238.5 L477.5,245.5 Z" fill="#a6d2ef"/>
<polygon fill="#8fc3e8" stroke="#333" stroke-width="0.7" points="479.5,233 486,231 484,243 479,245"/>
<rect x="458.5" y="248" width="18" height="11" fill="#fff" stroke="#333" stroke-width="0.8"/>
<g stroke="#333" stroke-width="1.2"><line x1="456.8" y1="229" x2="457.3" y2="260"/><line x1="478.5" y1="229" x2="478" y2="260"/></g>
<polygon fill="#f4f4f4" stroke="#222" stroke-width="0.8" points="444.1,224.8 454.4,221 481.5,221 490.2,224.8 481.5,228.9 454.4,228.9"/>
<g fill="none" stroke="#222" stroke-width="0.8">
<polyline points="444.1,224.8 444.1,216.6 454.4,208 481.5,208 490.2,216.6 490.2,224.8"/>
<polyline points="444.1,220.7 454.4,212.5 481.5,212.5 490.2,220.7"/>
<polyline points="444.1,216.6 454.4,221 481.5,221 490.2,216.6"/>
<line x1="454.4" y1="208" x2="454.4" y2="228.9"/><line x1="481.5" y1="208" x2="481.5" y2="228.9"/>
</g>
<ellipse cx="468" cy="215.5" rx="3.2" ry="2.4" fill="#111"/>
<ellipse cx="466.3" cy="215.3" rx="1" ry="1.3" fill="#f4f4d0"/>
<line x1="468" y1="217" x2="468" y2="222" stroke="#111" stroke-width="1"/>
<ellipse cx="468" cy="222.5" rx="2" ry="0.8" fill="#111"/>
</svg></body></html>
